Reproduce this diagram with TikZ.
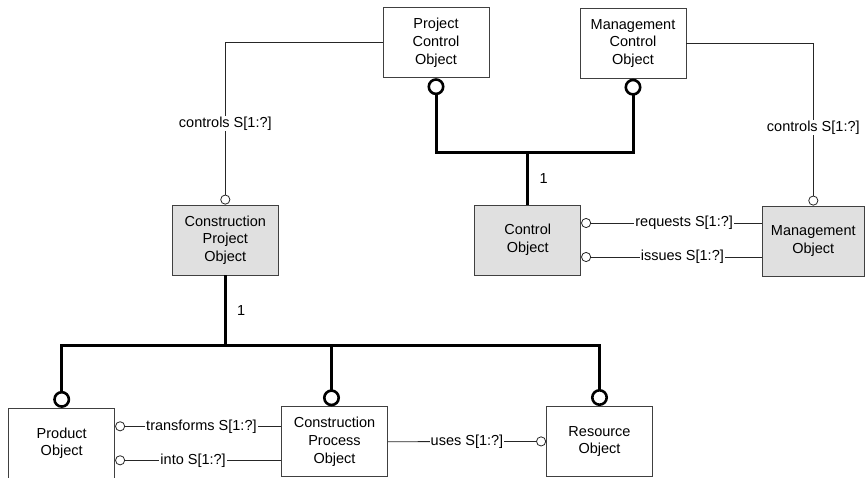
\documentclass[tikz,border=0pt]{standalone}
\usepackage{fontspec}
\setmainfont{Liberation Sans}
\usetikzlibrary{arrows.meta}

\begin{document}
\begin{tikzpicture}[x=1pt,y=1pt]
    % Setup the styles for the entities and relations
        \tikzset{entity style/.style={draw=black!75,
                                      line width=0.8pt,
                                      minimum width=106pt,
                                      minimum height=70pt,
                                      align=center,
                                      font=\fontsize{14.5}{17.6}\selectfont},
                 shaded/.style={fill=black!12},
                 relation/.style={line width=0.8pt, draw=black!85},
                 supertype/.style={line width=3pt, draw=black},
                 thin end/.style={-{Circle[open,length=10pt,width=10pt]}},
                 thick end/.style={-{Circle[open,length=17pt,width=17pt,line width=2.6pt]}},
                 both thick ends/.style={{Circle[open,length=17pt,width=17pt,line width=2.6pt]}-{Circle[open,length=17pt,width=17pt,line width=2.6pt]}},
                 rel label/.style={fill=white, inner sep=1pt,
                                   font=\fontsize{14.5}{17.6}\selectfont}}
        \useasboundingbox (0,0) rectangle (865,-477);
        % Draw the entities
        \node[entity style] at (436, -42.8)        (pco)  {Project\\Control\\Object};
        \node[entity style] at (633, -43.3)        (mco)  {Management\\Control\\Object};
        \node[entity style, shaded] at (225.3, -240) (cpo) {Construction\\Project\\Object};
        \node[entity style, shaded] at (527.7, -240) (co)  {Control\\Object};
        \node[entity style, shaded, minimum width=102pt] at (813.3, -241) (mo) {Management\\Object};
        \node[entity style] at (61.7, -443.3)      (prod) {Product\\Object};
        \node[entity style] at (334.5, -441.7)     (cpro) {Construction\\Process\\Object};
        \node[entity style] at (599.5, -441.4)     (res)  {Resource\\Object};
        % Junctions of the supertype trees
        \coordinate (cj1) at ([yshift=52pt]co.north);
        \coordinate (cj2) at ([yshift=-70pt]cpo.south);
        % Draw the supertype trees
        \draw[supertype, both thick ends] (pco.south) |- (cj1) -| (mco.south);
        \draw[supertype] (cj1) -- node[right=7pt, font=\fontsize{14.5}{17.6}\selectfont]{1} (co.north);
        \draw[supertype] (cpo.south) -- node[right=7pt, font=\fontsize{14.5}{17.6}\selectfont]{1} (cj2);
        \draw[supertype, both thick ends] (prod.north) |- (cj2) -| (res.north);
        \draw[supertype, thick end] ([xshift=-3pt]cpro.north |- cj2) -- ([xshift=-3pt]cpro.north);
        % Points where the relations meet the boxes
        \coordinate (co-rq) at ([yshift=17pt]co.east);
        \coordinate (co-is) at ([yshift=-17pt]co.east);
        \coordinate (pr-tr) at ([yshift=17pt]prod.east);
        \coordinate (pr-in) at ([yshift=-17pt]prod.east);
        % Connect the entities with relations
        \draw[relation, thin end] (pco.west) -| node[rel label, pos=0.75]{controls S[1:?]} (cpo.north);
        \draw[relation, thin end] (mco.east) -| node[rel label, pos=0.76]{controls S[1:?]} (mo.north);
        \draw[relation, thin end] (co-rq -| mo.west) -- node[rel label, pos=0.43]{requests S[1:?]} (co-rq);
        \draw[relation, thin end] (co-is -| mo.west) -- node[rel label, pos=0.44]{issues S[1:?]} (co-is);
        \draw[relation, thin end] (pr-tr -| cpro.west) -- node[rel label, pos=0.48]{transforms S[1:?]} (pr-tr);
        \draw[relation, thin end] (pr-in -| cpro.west) -- node[rel label, pos=0.53]{into S[1:?]} (pr-in);
        \draw[relation, thin end] (cpro.east) -- node[rel label, pos=0.5]{uses S[1:?]} (res.west);
\end{tikzpicture}
\end{document}
